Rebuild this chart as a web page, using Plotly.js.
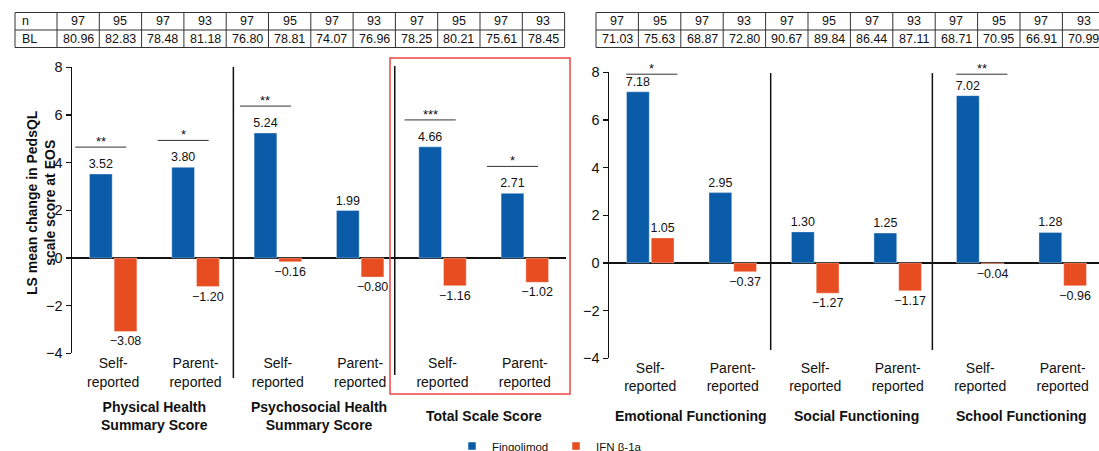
<!DOCTYPE html>
<html>
<head>
<meta charset="utf-8">
<script src="https://cdn.plot.ly/plotly-3.0.1.min.js"></script>
<style>html,body{margin:0;padding:0;background:#fff;}#chart{width:1099px;height:451px;}</style>
</head>
<body>
<div id="chart"></div>
<script>
// ---------------- DATA ----------------
const tickLabels = ['Self-<br>reported', 'Parent-<br>reported', 'Self-<br>reported', 'Parent-<br>reported', 'Self-<br>reported', 'Parent-<br>reported'];
const groupsLeft = ['Physical Health<br>Summary Score', 'Psychosocial Health<br>Summary Score', 'Total Scale Score'];
const groupsRight = ['Emotional Functioning', 'Social Functioning', 'School Functioning'];

const fingoLeft = [3.52, 3.80, 5.24, 1.99, 4.66, 2.71];
const ifnLeft = [-3.08, -1.20, -0.16, -0.80, -1.16, -1.02];
const fingoRight = [7.18, 2.95, 1.30, 1.25, 7.02, 1.28];
const ifnRight = [1.05, -0.37, -1.27, -1.17, -0.04, -0.96];

const sigLeft = ['**', '*', '**', '', '***', '*'];
const sigRight = ['*', '', '', '', '**', ''];

const rowLabels = ['n', 'BL'];
const nLeft = [97, 95, 97, 93, 97, 95, 97, 93, 97, 95, 97, 93];
const blLeft = [80.96, 82.83, 78.48, 81.18, 76.80, 78.81, 74.07, 76.96, 78.25, 80.21, 75.61, 78.45];
const nRight = [97, 95, 97, 93, 97, 95, 97, 93, 97, 95, 97, 93];
const blRight = [71.03, 75.63, 68.87, 72.80, 90.67, 89.84, 86.44, 87.11, 68.71, 70.95, 66.91, 70.99];

const seriesNames = ['Fingolimod', 'IFN β-1a'];
const yTitle = 'LS mean change in PedsQL<br>scale score at EOS';

// ---------------- STYLE ----------------
const W = 1099, H = 451;
const FONT = 'Liberation Sans, Arial, Helvetica, sans-serif';
const BLUE = '#0a5ba8';
const RED = '#e84d22';
const TXT = '#111111';
const px = x => x / W;
const py = y => 1 - y / H;

const idx = tickLabels.map((_, i) => i);
const fmt = v => (v < 0 ? '\u2212' : '') + Math.abs(v).toFixed(2);

function barTrace(vals, color, xa, ya, name) {
  return {
    type: 'bar', x: idx, y: vals, name: name, xaxis: xa, yaxis: ya,
    marker: {color: color, line: {color: 'rgba(255,255,255,0.35)', width: 1}},
    text: vals.map(fmt), textposition: 'outside', constraintext: 'none',
    cliponaxis: false, textfont: {family: FONT, size: 12.5, color: TXT},
    hoverinfo: 'skip', showlegend: false
  };
}

const data = [
  barTrace(fingoLeft, BLUE, 'x', 'y', seriesNames[0]),
  barTrace(ifnLeft, RED, 'x', 'y', seriesNames[1]),
  barTrace(fingoRight, BLUE, 'x2', 'y2', seriesNames[0]),
  barTrace(ifnRight, RED, 'x2', 'y2', seriesNames[1]),
  {type: 'scatter', mode: 'markers', x: [null], y: [null], name: seriesNames[0],
   marker: {symbol: 'square', size: 7.5, color: BLUE}, xaxis: 'x', yaxis: 'y', hoverinfo: 'skip'},
  {type: 'scatter', mode: 'markers', x: [null], y: [null], name: seriesNames[1],
   marker: {symbol: 'square', size: 7.5, color: RED}, xaxis: 'x', yaxis: 'y', hoverinfo: 'skip'}
];

const yAxisBase = {
  range: [-4, 8], tickvals: [-4, -2, 0, 2, 4, 6, 8], showgrid: false,
  zeroline: true, zerolinecolor: '#111', zerolinewidth: 1.3,
  showline: true, linecolor: '#111', linewidth: 1.5,
  ticks: 'outside', ticklen: 5, tickwidth: 1.3, tickcolor: '#111',
  tickfont: {family: FONT, size: 14.5, color: TXT}, fixedrange: true
};
const xAxisBase = {
  tickvals: idx, ticktext: tickLabels, showgrid: false, zeroline: false, showline: false,
  ticks: '', tickfont: {family: FONT, size: 14, color: TXT}, fixedrange: true
};

const shapes = [];
const annotations = [];

// ---- tables (grid lines + cell texts built from the arrays) ----
const ROW_TOP = 12.5, ROW_H = 17.5;
function drawTable(labels, nVals, blVals, x0, labelW, colW) {
  const rows = [nVals.map(String), blVals.map(v => v.toFixed(2))];
  const edges = [x0];
  if (labels) edges.push(x0 + labelW);
  nVals.forEach(() => edges.push(edges[edges.length - 1] + colW));
  const xEnd = edges[edges.length - 1];
  const lineStyle = {color: '#333', width: 1};
  for (let r = 0; r <= 2; r++) {
    const yy = py(ROW_TOP + r * ROW_H);
    shapes.push({type: 'line', xref: 'paper', yref: 'paper', x0: px(x0), x1: px(xEnd), y0: yy, y1: yy, line: lineStyle});
  }
  edges.forEach(e => shapes.push({type: 'line', xref: 'paper', yref: 'paper', x0: px(e), x1: px(e),
    y0: py(ROW_TOP + 2 * ROW_H), y1: py(ROW_TOP), line: lineStyle}));
  const first = labels ? 1 : 0;
  rows.forEach((row, r) => {
    const yc = py(ROW_TOP + (r + 0.5) * ROW_H);
    if (labels) annotations.push({xref: 'paper', yref: 'paper', x: px(x0 + 5), y: yc, xanchor: 'left', yanchor: 'middle',
      text: labels[r], showarrow: false, font: {family: FONT, size: 12.5, color: TXT}});
    row.forEach((t, c) => annotations.push({xref: 'paper', yref: 'paper',
      x: px((edges[first + c] + edges[first + c + 1]) / 2), y: yc, xanchor: 'center', yanchor: 'middle',
      text: t, showarrow: false, font: {family: FONT, size: 12.5, color: TXT}}));
  });
}
drawTable(rowLabels, nLeft, blLeft, 15, 42, 42.3);
drawTable(null, nRight, blRight, 596, 0, 42.4);

// separators
function sep(xa, xv, yTop, yBot) {
  shapes.push({type: 'line', xref: xa, yref: 'paper', x0: xv, x1: xv, y0: py(yBot), y1: py(yTop),
               line: {color: '#111', width: 1.5}});
}
sep('x', 1.46, 67, 378); sep('x', 3.42, 66, 375);
sep('x2', 1.46, 73, 350); sep('x2', 3.42, 73, 350);

// red highlight box
shapes.push({type: 'rect', xref: 'paper', yref: 'paper', x0: px(390), x1: px(570), y0: py(394), y1: py(58),
             line: {color: '#f04545', width: 1.5}, fillcolor: 'rgba(0,0,0,0)'});

// significance brackets
function brackets(sig, vals, xa, ya, shift) {
  sig.forEach((s, i) => {
    if (!s) return;
    const c = i - 0.15 + shift;
    const yv = Math.min(vals[i] + 1.13, 7.92);
    shapes.push({type: 'line', xref: xa, yref: ya, x0: c - 0.31, x1: c + 0.31, y0: yv, y1: yv,
                 line: {color: '#333', width: 1}});
    annotations.push({xref: xa, yref: ya, x: c, y: yv, text: s, showarrow: false, yanchor: 'bottom',
                      yshift: -4, font: {family: FONT, size: 13, color: TXT}});
  });
}
brackets(sigLeft, fingoLeft, 'x', 'y', 0);
brackets(sigRight, fingoRight, 'x2', 'y2', 0.17);

// group titles
[[groupsLeft, 'x'], [groupsRight, 'x2']].forEach(([g, xa]) => {
  g.forEach((t, k) => annotations.push({xref: xa, yref: 'paper', x: 2 * k + 0.5, y: py(416), text: '<b>' + t + '</b>',
    showarrow: false, yanchor: 'middle', xanchor: 'center', font: {family: FONT, size: 14, color: '#111'}}));
});

// y axis title
annotations.push({xref: 'paper', yref: 'paper', x: px(41), y: py(203), text: '<b>' + yTitle + '</b>', textangle: -90,
  showarrow: false, xanchor: 'center', yanchor: 'middle', font: {family: FONT, size: 14, color: '#111'}});

const layout = {
  width: W, height: H, margin: {l: 0, r: 0, t: 0, b: 0, autoexpand: false},
  paper_bgcolor: '#fff', plot_bgcolor: 'rgba(0,0,0,0)',
  font: {family: FONT, color: TXT},
  barmode: 'group', bargap: 0.4, bargroupgap: 0.08,
  xaxis: Object.assign({}, xAxisBase, {domain: [px(72), px(566)], range: [-0.5, 5.5], anchor: 'y'}),
  yaxis: Object.assign({}, yAxisBase, {domain: [py(353.4), py(67.2)], anchor: 'x'}),
  xaxis2: Object.assign({}, xAxisBase, {domain: [px(609), 1], range: [-0.5, 5.44], anchor: 'y2'}),
  yaxis2: Object.assign({}, yAxisBase, {domain: [py(358.2), py(72.3)], anchor: 'x2'}),
  showlegend: true,
  legend: {orientation: 'h', x: px(452), y: py(446), xanchor: 'left', yanchor: 'middle',
           font: {family: FONT, size: 11.5, color: TXT}, entrywidth: 59, entrywidthmode: 'pixels',
           bgcolor: 'rgba(0,0,0,0)'},
  shapes: shapes, annotations: annotations
};

Plotly.newPlot('chart', data, layout, {staticPlot: true, displayModeBar: false});
</script>
</body>
</html>
